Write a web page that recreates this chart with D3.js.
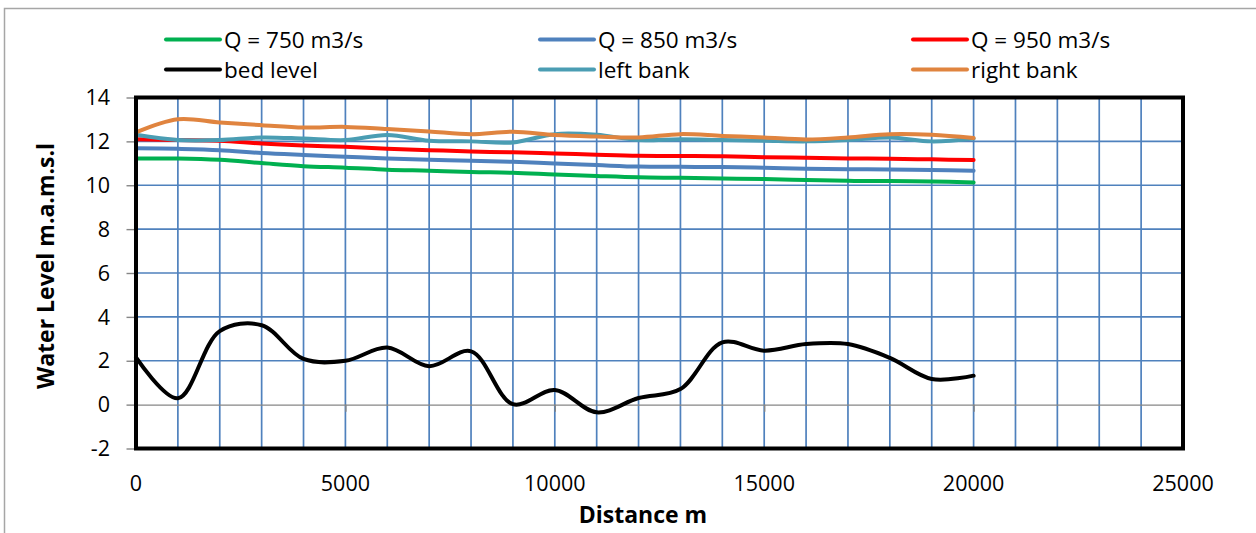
<!DOCTYPE html>
<html><head><meta charset="utf-8">
<script src="https://cdn.jsdelivr.net/npm/d3@7"></script>
<style>
html,body{margin:0;padding:0;background:#fff;}
svg{display:block;font-family:"Open Sans",sans-serif;}
</style>
</head><body>
<svg id="chart" width="1256" height="533"></svg>
<script>
// ---- data ----
const distances = [0,1000,2000,3000,4000,5000,6000,7000,8000,9000,10000,11000,12000,13000,14000,15000,16000,17000,18000,19000,20000];
const q750 = [11.22,11.22,11.16,11.01,10.87,10.80,10.71,10.66,10.60,10.57,10.49,10.42,10.36,10.34,10.31,10.28,10.24,10.20,10.19,10.17,10.13];
const q850 = [11.69,11.66,11.60,11.47,11.38,11.30,11.22,11.16,11.12,11.07,10.99,10.92,10.85,10.84,10.83,10.80,10.75,10.73,10.72,10.70,10.66];
const q950 = [12.10,12.06,12.03,11.90,11.81,11.75,11.66,11.60,11.54,11.50,11.45,11.39,11.34,11.33,11.32,11.28,11.25,11.22,11.21,11.18,11.15];
const bedLevel = [2.15,0.29,3.35,3.62,2.08,2.00,2.60,1.75,2.43,0.02,0.67,-0.35,0.30,0.71,2.84,2.46,2.76,2.76,2.13,1.17,1.32];
const leftBank = [12.30,12.06,12.06,12.18,12.13,12.06,12.29,12.03,12.00,11.95,12.33,12.30,12.06,12.10,12.06,12.03,12.00,12.06,12.18,12.00,12.13];
const rightBank = [12.41,13.01,12.86,12.74,12.63,12.66,12.56,12.45,12.33,12.44,12.29,12.22,12.18,12.33,12.25,12.18,12.09,12.18,12.33,12.30,12.15];
const seriesNames = ["Q = 750 m3/s","Q = 850 m3/s","Q = 950 m3/s","bed level","left bank","right bank"];
const xTickValues = [0,5000,10000,15000,20000,25000];
const yTickValues = [-2,0,2,4,6,8,10,12,14];
const xTitle = "Distance m";
const yTitle = "Water Level m.a.m.s.l";

// ---- styles ----
const seriesData = [q750,q850,q950,bedLevel,leftBank,rightBank];
const colors = ["#00B050","#4F81BD","#FF0000","#000000","#4A9DB3","#E0843F"];
const gridColor = "#4F81BD";
const axisGray = "#868686";

const svg = d3.select("#chart");

// outer chart border
svg.append("rect").attr("x",4.5).attr("y",8.5).attr("width",1400).attr("height",700)
  .attr("fill","none").attr("stroke","#A6A6A6").attr("stroke-width",1.5);

const x = d3.scaleLinear().domain([0,25000]).range([136,1183]);
const y = d3.scaleLinear().domain([-2,14]).range([448.5,97.5]);

// vertical grid (every 1000)
svg.append("g").selectAll("line").data(d3.range(1000,25000,1000)).join("line")
  .attr("x1",d=>x(d)).attr("x2",d=>x(d)).attr("y1",y(14)).attr("y2",y(-2))
  .attr("stroke",gridColor).attr("stroke-width",1.7);
// horizontal grid
svg.append("g").selectAll("line").data(yTickValues.filter(v=>v>0&&v<14)).join("line")
  .attr("x1",x(0)).attr("x2",x(25000)).attr("y1",d=>y(d)).attr("y2",d=>y(d))
  .attr("stroke",gridColor).attr("stroke-width",1.7);

// zero axis line with ticks
const xAxis = d3.axisBottom(x).tickValues(xTickValues).tickSize(7).tickFormat("");
const gx0 = svg.append("g").attr("transform",`translate(0,${y(0)})`).call(xAxis);
gx0.selectAll("path,line").attr("stroke",axisGray).attr("stroke-width",1.4);

// y axis (gray) with ticks
const yAxis = d3.axisLeft(y).tickValues(yTickValues).tickSize(8).tickSizeOuter(0).tickFormat("");
const gy = svg.append("g").attr("transform",`translate(${x(0)-1.5},0)`).call(yAxis);
gy.selectAll("path,line").attr("stroke",axisGray).attr("stroke-width",1.4);

// tick labels
svg.append("g").selectAll("text").data(yTickValues).join("text")
  .attr("x",110).attr("y",d=>y(d)).attr("dy","0.36em").attr("text-anchor","end")
  .attr("font-size",21.5).attr("fill","#000").text(d=>d);
svg.append("g").selectAll("text").data(xTickValues).join("text")
  .attr("x",d=>x(d)).attr("y",490.5).attr("text-anchor","middle")
  .attr("font-size",21.5).attr("fill","#000").text(d=>d);

// series lines
const line = d3.line().x((d,i)=>x(distances[i])).y(d=>y(d)).curve(d3.curveCatmullRom.alpha(0.5));
seriesData.forEach((s,k)=>{
  svg.append("path").datum(s).attr("d",line).attr("fill","none")
    .attr("stroke",colors[k]).attr("stroke-width",4).attr("stroke-linejoin","round").attr("stroke-linecap","round");
});

// plot area border
svg.append("rect").attr("x",x(0)).attr("y",y(14)).attr("width",x(25000)-x(0)).attr("height",y(-2)-y(14))
  .attr("fill","none").attr("stroke","#000").attr("stroke-width",4);

// axis titles
svg.append("text").attr("x",643).attr("y",523).attr("text-anchor","middle")
  .attr("font-size",23).attr("font-weight","bold").attr("fill","#000").text(xTitle);
svg.append("text").attr("transform","translate(54,266) rotate(-90)").attr("text-anchor","middle")
  .attr("font-size",23).attr("font-weight","bold").attr("fill","#000").text(yTitle);

// legend
const legX = [166,540,913];
const legY = [39.5,69.5];
seriesNames.forEach((name,k)=>{
  const col = k%3, row = Math.floor(k/3);
  const g = svg.append("g");
  g.append("line").attr("x1",legX[col]).attr("x2",legX[col]+54).attr("y1",legY[row]).attr("y2",legY[row])
    .attr("stroke",colors[k]).attr("stroke-width",4).attr("stroke-linecap","round");
  g.append("text").attr("x",legX[col]+58).attr("y",legY[row]).attr("dy","0.36em")
    .attr("font-size",22.5).attr("fill","#000").text(name);
});
</script>
</body></html>
